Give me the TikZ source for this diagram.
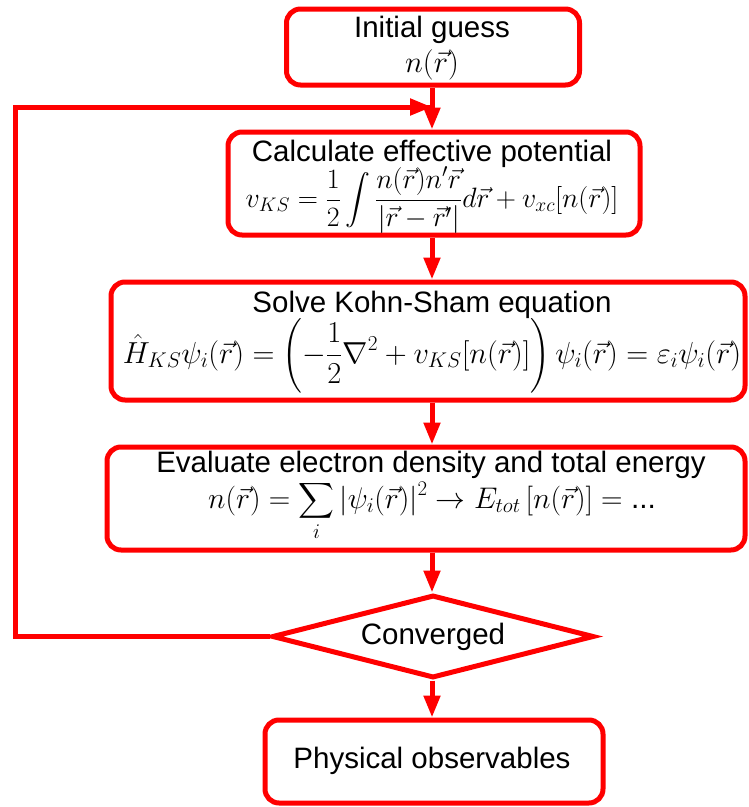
\documentclass[tikz,border=0pt]{standalone}
\usepackage{fix-cm}
\usepackage{amsmath}
\usepackage[no-math]{fontspec}
\setmainfont{Liberation Sans}
\usetikzlibrary{arrows.meta,shapes.geometric}
\tikzset{
  boxst/.style={draw=red, line width=5pt, rounded corners=14pt, fill=white,
    inner sep=0pt},
  decst/.style={draw=red, line width=5pt, diamond, aspect=3.9, fill=white,
    inner sep=0pt, font=\fontsize{29.5}{36}\selectfont},
  titlest/.style={anchor=base, inner sep=0pt, font=\fontsize{29.5}{36}\selectfont},
  mathst/.style={anchor=base, inner sep=0pt, font=\fontsize{30.4}{38}\selectfont},
  arr/.style={draw=red, line width=5pt, -{Triangle[length=22pt,width=16pt]}},
  loopline/.style={draw=red, line width=5pt, line join=miter}
}
\begin{document}
\begin{tikzpicture}[x=1pt,y=-1pt]
\useasboundingbox (0,0) rectangle (749,807);
% boxes
\node[boxst, minimum width=293pt, minimum height=76pt] (init) at (433,47) {};
\node[boxst, minimum width=412pt, minimum height=103pt] (calc) at (434,183.5) {};
\node[boxst, minimum width=634pt, minimum height=118pt] (solve) at (428,341) {};
\node[boxst, minimum width=638pt, minimum height=103pt] (eval) at (426,498.5) {};
\node[decst, minimum width=322pt, minimum height=83pt] (conv) at (433,636.5) {Converged};
\node[boxst, minimum width=338pt, minimum height=83pt] (phys) at (434,761.5) {};
% texts
\node[titlest] (initT) at (432,37) {Initial guess};
\node[mathst, font=\fontsize{30.5}{36}\selectfont] (initM) at (432,72) {$n(\vec{r})$};
\node[titlest] (calcT) at (432,161) {Calculate effective potential};
\node[mathst, font=\fontsize{28}{34}\selectfont] (calcM) at (432,207)
  {$\displaystyle v_{KS}=\frac{1}{2}\int\frac{n(\vec{r})n'\vec{r}}{|\vec{r}-\vec{r}'|}d\vec{r}+v_{xc}[n(\vec{r})]$};
\node[titlest] (solveT) at (432,312) {Solve Kohn-Sham equation};
\node[mathst] (solveM) at (432,363)
  {$\displaystyle \hat{H}_{KS}\psi_i(\vec{r})=\left(-\frac{1}{2}\nabla^2+v_{KS}[n(\vec{r})]\right)\psi_i(\vec{r})=\varepsilon_i\psi_i(\vec{r})$};
\node[titlest] (evalT) at (431,472) {Evaluate electron density and total energy};
\node[mathst, font=\fontsize{29.8}{36}\selectfont] (evalM) at (432,508)
  {$\displaystyle n(\vec{r})=\sum_i|\psi_i(\vec{r})|^2\rightarrow E_{tot}\left[n(\vec{r})\right]=\text{...}$};
\node[titlest] (physT) at (432,768) {Physical observables};
% connectors
\coordinate (fbtop) at (15,107);
\coordinate (axis) at (432,107);
\draw[arr] (init.south -| axis) -- (calc.north -| axis);
\draw[arr] (calc.south -| axis) -- (solve.north -| axis);
\draw[arr] (solve.south -| axis) -- (eval.north -| axis);
\draw[arr] (eval.south -| axis) -- (conv.north -| axis);
\draw[arr] (conv.south -| axis) -- (phys.north -| axis);
\draw[loopline] (conv.west) -- (conv.west -| fbtop) -- (fbtop) -- (axis);
\draw[arr] (fbtop) -- (axis);
\end{tikzpicture}
\end{document}
